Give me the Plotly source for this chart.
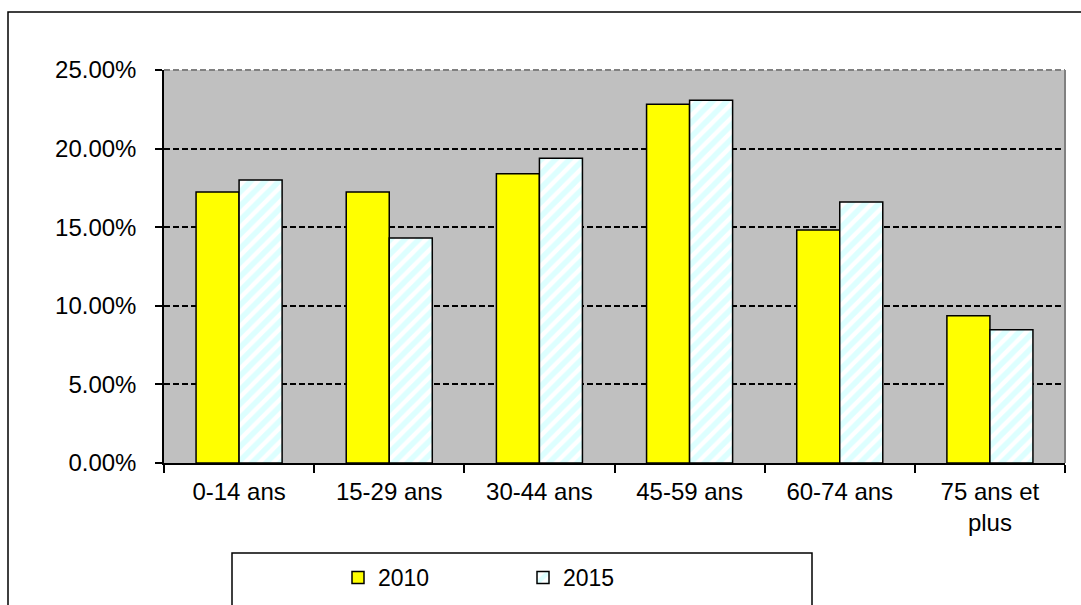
import plotly.graph_objects as go

# Répartition de la population par tranche d'âge
categories = ["0-14 ans", "15-29 ans", "30-44 ans", "45-59 ans", "60-74 ans", "75 ans et<br>plus"]
share_2010 = [17.24, 17.24, 18.40, 22.82, 14.82, 9.37]
share_2015 = [18.00, 14.31, 19.38, 23.07, 16.60, 8.48]
y_ticks = [0, 5, 10, 15, 20, 25]
y_tick_labels = ["0.00%", "5.00%", "10.00%", "15.00%", "20.00%", "25.00%"]

W, H = 1081, 605
L, R, T, B = 164, 1065, 70, 463
pw, ph = R - L, B - T

def px_x(v):
    return (v - L) / pw

def px_y(v):
    return (B - v) / ph

font = dict(family="Liberation Sans, Arial, sans-serif", size=24, color="black")
legend_font = dict(family="Liberation Sans, Arial, sans-serif", size=23, color="black")

fig = go.Figure()
fig.add_trace(go.Bar(
    name="2010", x=categories, y=share_2010,
    marker=dict(color="#ffff00", line=dict(color="black", width=1.5)),
))
fig.add_trace(go.Bar(
    name="2015", x=categories, y=share_2015,
    marker=dict(color="white", line=dict(color="black", width=1.5),
                pattern=dict(shape="/", fgcolor="#bcffff", bgcolor="white",
                             size=10, solidity=0.55)),
))

fig.update_layout(
    width=W, height=H,
    margin=dict(l=L, r=W - R, t=T, b=H - B, pad=0, autoexpand=False),
    paper_bgcolor="white",
    plot_bgcolor="#c0c0c0",
    font=font,
    barmode="group",
    bargap=0.427,
    bargroupgap=0,
    showlegend=True,
    legend=dict(
        orientation="h", x=px_x(338), y=px_y(556), xanchor="left", yanchor="top",
        bgcolor="rgba(0,0,0,0)", borderwidth=0, font=legend_font,
        entrywidth=140, itemwidth=30, traceorder="normal",
    ),
    xaxis=dict(
        type="category", showline=True, linecolor="black", linewidth=1.5,
        ticks="outside", tickson="boundaries", ticklen=8, tickcolor="black",
        tickwidth=1.5, showgrid=False, tickfont=font, ticklabelstandoff=6,
    ),
    yaxis=dict(
        range=[0, 25], tickvals=y_ticks, ticktext=y_tick_labels,
        showline=True, linecolor="black", linewidth=1.5,
        ticks="outside", ticklen=7, tickcolor="black", tickwidth=1.5,
        showgrid=True, gridcolor="black", griddash="6px,3px", gridwidth=1.5,
        zeroline=False, tickfont=font, ticklabelstandoff=14,
    ),
    shapes=[
        # outer chart frame
        dict(type="rect", xref="paper", yref="paper",
             x0=px_x(8), x1=px_x(1090), y0=px_y(620), y1=px_y(12),
             line=dict(color="black", width=1.5), layer="below"),
        # plot area border
        dict(type="line", xref="paper", yref="paper", x0=0, x1=1, y0=1, y1=1,
             line=dict(color="#808080", width=2, dash="6px,3px"), layer="above"),
        dict(type="line", xref="paper", yref="paper", x0=1, x1=1, y0=0, y1=1,
             line=dict(color="#808080", width=2), layer="above"),
        # legend box
        dict(type="rect", xref="paper", yref="paper",
             x0=px_x(232), x1=px_x(812), y0=px_y(620), y1=px_y(553),
             line=dict(color="black", width=1.5), fillcolor="white", layer="below"),
    ],
)

fig.write_html("out.html")
